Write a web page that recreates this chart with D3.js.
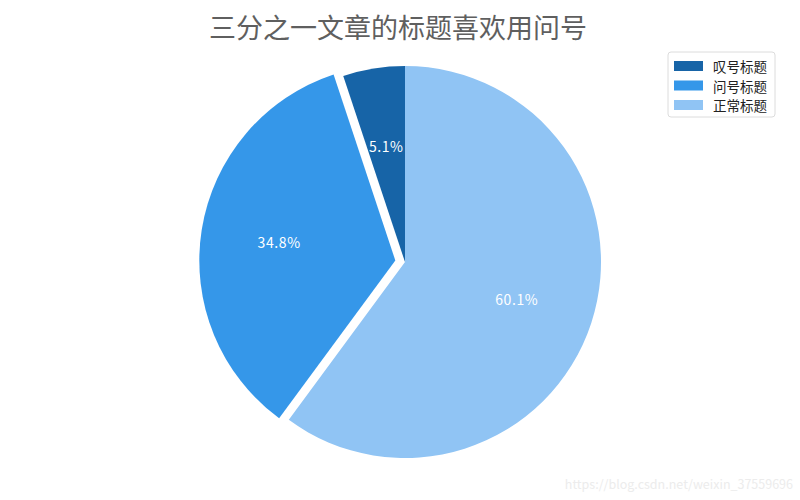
<!DOCTYPE html>
<html lang="zh">
<head>
    <meta charset="UTF-8">
    <title>三分之一文章的标题喜欢用问号</title>
    <script src="https://d3js.org/d3.v7.min.js"></script>
    <style>
        body { margin: 0; background: #fff; }
        text { font-family: "Noto Sans CJK SC", "DejaVu Sans", sans-serif; }
        .pct { letter-spacing: 0.6px; }
    </style>
</head>
<body>
<svg id="chart" width="800" height="500"></svg>
<script>
    // data
    const categories = ["叹号标题", "问号标题", "正常标题"];
    const shares = [5.1, 34.8, 60.1];
    const explodeBy = [0, 0.05, 0];
    const colors = ["#1764a7", "#3597e9", "#90c4f4"];
    const title = "三分之一文章的标题喜欢用问号";

    const width = 800, height = 500;
    const cx = 405, cy = 262, radius = 196;

    const svg = d3.select("#chart");

    svg.append("text")
        .attr("x", 398)
        .attr("y", 38)
        .attr("text-anchor", "middle")
        .attr("font-size", 27)
        .attr("fill", "#5f5f5f")
        .text(title);

    // matplotlib style: start at 12 o'clock, go counter-clockwise
    const pie = d3.pie().sort(null).startAngle(0).endAngle(-2 * Math.PI);
    const arcs = pie(shares);
    const arc = d3.arc().innerRadius(0).outerRadius(radius);
    const labelArc = d3.arc().innerRadius(radius * 0.6).outerRadius(radius * 0.6);

    const g = svg.append("g").attr("transform", `translate(${cx},${cy})`);

    const slice = g.selectAll("g.slice")
        .data(arcs)
        .join("g")
        .attr("class", "slice")
        .attr("transform", (d, i) => {
            const a = (d.startAngle + d.endAngle) / 2;
            const off = explodeBy[i] * radius;
            return `translate(${Math.sin(a) * off},${-Math.cos(a) * off})`;
        });

    slice.append("path")
        .attr("d", arc)
        .attr("fill", (d, i) => colors[i]);

    slice.append("text")
        .attr("class", "pct")
        .attr("transform", d => `translate(${labelArc.centroid(d)})`)
        .attr("text-anchor", "middle")
        .attr("dominant-baseline", "central")
        .attr("font-size", 14)
        .attr("fill", "#fff")
        .text(d => d.data.toFixed(1) + "%");

    // legend
    const legend = svg.append("g").attr("transform", "translate(668,52)");
    legend.append("rect")
        .attr("width", 107)
        .attr("height", 65)
        .attr("rx", 3)
        .attr("fill", "#fff")
        .attr("stroke", "#dcdcdc");

    const item = legend.selectAll("g.item")
        .data(categories)
        .join("g")
        .attr("class", "item")
        .attr("transform", (d, i) => `translate(0,${14 + i * 19.5})`);

    item.append("rect")
        .attr("x", 6)
        .attr("y", -5)
        .attr("width", 29)
        .attr("height", 10)
        .attr("fill", (d, i) => colors[i]);

    item.append("text")
        .attr("x", 45)
        .attr("y", 0)
        .attr("dominant-baseline", "central")
        .attr("font-size", 13.5)
        .attr("fill", "#222")
        .text(d => d);

    // watermark
    svg.append("text")
        .attr("x", 793)
        .attr("y", 489)
        .attr("text-anchor", "end")
        .attr("font-size", 12.5)
        .attr("fill", "#ececec")
        .text("https://blog.csdn.net/weixin_37559696");
</script>
</body>
</html>
